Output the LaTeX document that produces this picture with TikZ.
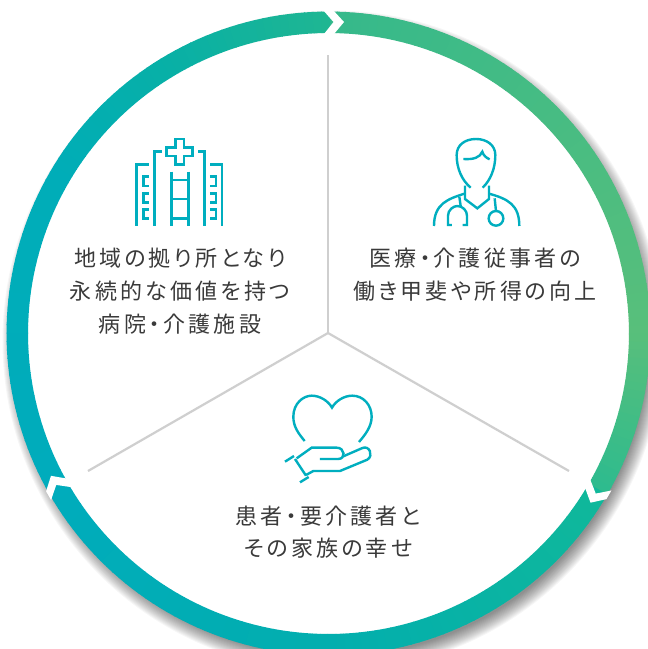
\documentclass[tikz,border=0pt]{standalone}
\usepackage{fontspec}
\setmainfont{Noto Sans CJK JP}[LetterSpace=14.5,RawFeature={+palt}]
\definecolor{iconc}{HTML}{00AEBF}
\definecolor{divc}{HTML}{CFCFCF}
\definecolor{txtc}{HTML}{3A3A3A}
\newcommand{\ringseg}[4]{% a1 a2 c1 c2 (angles clockwise, image frame)
  \pgfmathsetmacro{\stepn}{int((#2-(#1))/1.5)}
  \foreach \k in {1,...,\stepn}{
    \pgfmathsetmacro{\aa}{#1+(\k-1)*(#2-(#1))/\stepn}
    \pgfmathsetmacro{\bb}{#1+\k*(#2-(#1))/\stepn+0.15}
    \pgfmathsetmacro{\tt}{100*(\k-0.5)/\stepn}
    \fill[color=#4!\tt!#3] ($(ctr)+(\aa:322)$) -- ($(ctr)+(\bb:322)$) -- ($(ctr)+(\bb:300.5)$) -- ($(ctr)+(\aa:300.5)$) -- cycle;
  }
}
\usetikzlibrary{calc}
\definecolor{s0}{HTML}{35B98B}\definecolor{s1}{HTML}{58BF7B}\definecolor{s2}{HTML}{2DBB8F}
\definecolor{s3}{HTML}{10B89A}\definecolor{s4}{HTML}{02AEAE}\definecolor{s5}{HTML}{00ACBC}
\definecolor{s6}{HTML}{00ADB8}\definecolor{s7}{HTML}{08B0A6}\definecolor{s8}{HTML}{1FB692}
\tikzset{
  icon/.style={draw=iconc,line width=2.4pt,line cap=butt,line join=miter,fill=none},
  divider/.style={draw=divc,line width=2.2pt},
  label/.style={text=txtc,font=\fontsize{22}{22}\selectfont,inner sep=0pt,anchor=center},
  chevron/.style={fill=white,draw=none},
}
\begin{document}
\begin{tikzpicture}[x=1pt,y=-1pt]
\useasboundingbox (0,0) rectangle (648,649);
\clip (0,0) rectangle (648,649);
\coordinate (ctr) at (328.5,333.5);
% shadow
\foreach \k in {0,...,15}{
  \fill[black,opacity=.035] (333,341) circle[radius=322.5+\k-7];
}
\fill[white] (ctr) circle[radius=301];
% ring
\ringseg{-90}{0}{s0}{s1}
\ringseg{0}{30}{s1}{s2}
\ringseg{30}{90}{s3}{s4}
\ringseg{90}{150}{s4}{s5}
\ringseg{150}{210}{s5}{s6}
\ringseg{210}{240}{s6}{s7}
\ringseg{240}{270.2}{s7}{s8}
% chevrons
\foreach \rot in {0,120,240}{
  \begin{scope}[rotate around={\rot:(ctr)}]
    \fill[chevron] (323,10) -- (333,10) -- (344,22) -- (334,34) -- (324,34) -- (333.5,22) -- cycle;
  \end{scope}
}
% dividers
\coordinate (d1) at (328,55);
\coordinate (d2) at (88,471);
\coordinate (d3) at (569,471);
\coordinate (hub) at (328,333);
\draw[divider] (d1) -- (hub);
\draw[divider] (d2) -- (hub);
\draw[divider] (d3) -- (hub);
% hospital icon
\begin{scope}[shift={(120,125)},x=.3333pt,y=-.3333pt]
  \draw[icon] (50,303) -- (50,118) -- (88,118);
  \draw[icon] (104,303) -- (104,80) -- (125,80);
  \draw[icon] (254,303) -- (254,80) -- (234,80);
  \draw[icon] (306,303) -- (306,118) -- (270,118);
  \draw[icon] (166,42) -- (192,42) -- (192,67) -- (218,67) -- (218,93) -- (192,93) -- (192,118) -- (166,118) -- (166,93) -- (140,93) -- (140,67) -- (166,67) -- cycle;
  \draw[icon] (154,140) -- (154,303);
  \draw[icon] (205,140) -- (205,303);
  \foreach \yy in {165,222,280}{\draw[icon] (154,\yy) -- (205,\yy);}
  \foreach \yy in {155,205,253}{
    \draw[icon] (87,\yy) -- (70,\yy) -- (70,\yy+28) -- (87,\yy+28);
    \draw[icon] (270,\yy) -- (288,\yy) -- (288,\yy+28) -- (270,\yy+28);
  }
\end{scope}
% doctor icon
\begin{scope}[shift={(420,125)},x=.3333pt,y=-.3333pt]
  \draw[icon] (152,188) .. controls (125,165) and (110,130) .. (110,90) .. controls (110,60) and (135,42) .. (168,42) .. controls (200,42) and (226,60) .. (226,90) .. controls (226,130) and (212,165) .. (188,188);
  \draw[icon] (130,102) .. controls (160,104) and (180,98) .. (187,80) .. controls (190,92) and (200,99) .. (209,103);
  \draw[icon] (135,182) -- (135,222) -- (172,250) -- (207,222) -- (207,182);
  \draw[icon] (133,206) .. controls (85,222) and (42,235) .. (42,303);
  \draw[icon] (207,206) .. controls (265,222) and (298,240) .. (298,303);
  \draw[icon] (118,215) -- (122,243);
  \draw[icon] (96,300) -- (84,300) -- (84,272) .. controls (84,255) and (100,243) .. (112,243) .. controls (128,243) and (141,257) .. (141,272) -- (141,300) -- (128,300);
  \draw[icon] (224,220) -- (228,258);
  \draw[icon] (228,280) circle[radius=22];
\end{scope}
% heart hand icon
\begin{scope}[shift={(270,385)},x=.3333pt,y=-.3333pt]
  \draw[icon] (104,168) .. controls (85,145) and (70,125) .. (70,95) .. controls (70,55) and (100,32) .. (125,32) .. controls (150,32) and (175,48) .. (186,68) .. controls (197,48) and (222,32) .. (247,32) .. controls (280,32) and (305,60) .. (305,95) .. controls (305,125) and (285,150) .. (267,171);
  \draw[icon] (75,222) -- (108,272);
  \draw[icon] (45,230) -- (72,213);
  \draw[icon] (90,292) -- (116,276);
  \draw[icon] (80,220) -- (125,188) -- (200,188) .. controls (225,188) and (228,222) .. (205,222) -- (150,222);
  \draw[icon] (108,270) -- (130,258) -- (210,258) -- (292,224) .. controls (312,212) and (298,178) .. (275,190) -- (220,214);
\end{scope}
% labels
\node[label] (a1) at (180,258) {地域の拠り所となり};
\node[label] (a2) at (180,291) {永続的な価値を持つ};
\node[label] (a3) at (180,324) {病院・介護施設};
\node[label] (b1) at (475,258) {医療・介護従事者の};
\node[label] (b2) at (475,291) {働き甲斐や所得の向上};
\node[label] (c1) at (328,516) {患者・要介護者と};
\node[label] (c2) at (328,548) {その家族の幸せ};
\end{tikzpicture}
\end{document}
